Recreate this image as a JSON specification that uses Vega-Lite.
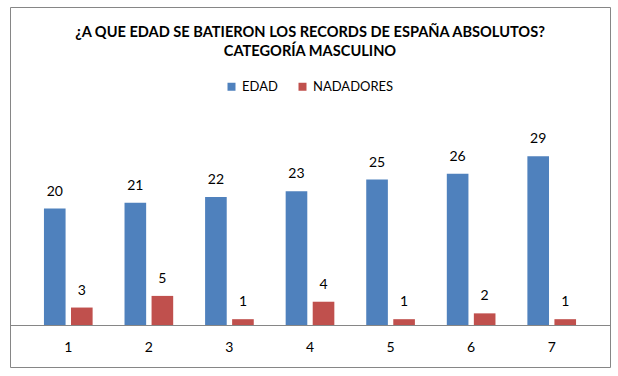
{
  "$schema": "https://vega.github.io/schema/vega-lite/v6.json",
  "width": 600,
  "height": 360,
  "autosize": {"type": "none"},
  "padding": {"left": 10, "top": 7, "right": 8, "bottom": 9},
  "background": "white",
  "config": {
    "font": "Lato",
    "view": {"stroke": "#868686", "strokeWidth": 1}
  },
  "title": {
    "text": ["¿A QUE EDAD SE BATIERON LOS RECORDS DE ESPAÑA ABSOLUTOS?", "CATEGORÍA MASCULINO"],
    "font": "Lato",
    "fontSize": 14.6,
    "fontWeight": "bold",
    "color": "#000000",
    "anchor": "middle",
    "frame": "group",
    "offset": -52,
    "lineHeight": 19
  },
  "data": {
    "values": [
      {"cat": "1", "serie": "EDAD", "valor": 20},
      {"cat": "1", "serie": "NADADORES", "valor": 3},
      {"cat": "2", "serie": "EDAD", "valor": 21},
      {"cat": "2", "serie": "NADADORES", "valor": 5},
      {"cat": "3", "serie": "EDAD", "valor": 22},
      {"cat": "3", "serie": "NADADORES", "valor": 1},
      {"cat": "4", "serie": "EDAD", "valor": 23},
      {"cat": "4", "serie": "NADADORES", "valor": 4},
      {"cat": "5", "serie": "EDAD", "valor": 25},
      {"cat": "5", "serie": "NADADORES", "valor": 1},
      {"cat": "6", "serie": "EDAD", "valor": 26},
      {"cat": "6", "serie": "NADADORES", "valor": 2},
      {"cat": "7", "serie": "EDAD", "valor": 29},
      {"cat": "7", "serie": "NADADORES", "valor": 1}
    ]
  },
  "layer": [
    {
      "mark": {"type": "bar"},
      "encoding": {
        "x": {
          "field": "cat",
          "type": "ordinal",
          "scale": {"paddingInner": 0, "paddingOuter": 0.2234},
          "axis": {
            "title": null,
            "orient": "bottom",
            "offset": -42,
            "domain": false,
            "ticks": false,
            "labelAngle": 0,
            "labelFont": "Lato",
            "labelFontSize": 14,
            "labelColor": "#000000",
            "labelBaseline": "middle",
            "labelPadding": 22,
            "grid": false
          }
        },
        "xOffset": {
          "field": "serie",
          "type": "nominal",
          "scale": {"paddingInner": 0.2, "paddingOuter": 0.59}
        },
        "y": {
          "field": "valor",
          "type": "quantitative",
          "stack": null,
          "scale": {"domain": [-7.216, 54.64], "nice": false, "zero": false},
          "axis": {
            "title": null,
            "values": [0],
            "grid": true,
            "gridColor": "#868686",
            "gridOpacity": 1,
            "gridWidth": 1,
            "labels": false,
            "ticks": false,
            "domain": false
          }
        },
        "y2": {"datum": 0},
        "color": {
          "field": "serie",
          "type": "nominal",
          "scale": {"domain": ["EDAD", "NADADORES"], "range": ["#4F81BD", "#C0504D"]},
          "legend": {
            "orient": "none",
            "legendX": 215,
            "legendY": 73,
            "direction": "horizontal",
            "title": null,
            "symbolType": "square",
            "symbolSize": 64,
            "symbolStrokeWidth": 0,
            "labelFont": "Lato",
            "labelFontSize": 13,
            "labelColor": "#000000",
            "labelOffset": 4,
            "columnPadding": 18
          }
        }
      }
    },
    {
      "mark": {"type": "text", "baseline": "middle", "dy": -17, "fontSize": 14, "color": "#000000", "font": "Lato"},
      "encoding": {
        "x": {"field": "cat", "type": "ordinal"},
        "xOffset": {"field": "serie", "type": "nominal"},
        "y": {"field": "valor", "type": "quantitative", "stack": null},
        "text": {"field": "valor", "type": "quantitative"}
      }
    }
  ]
}
